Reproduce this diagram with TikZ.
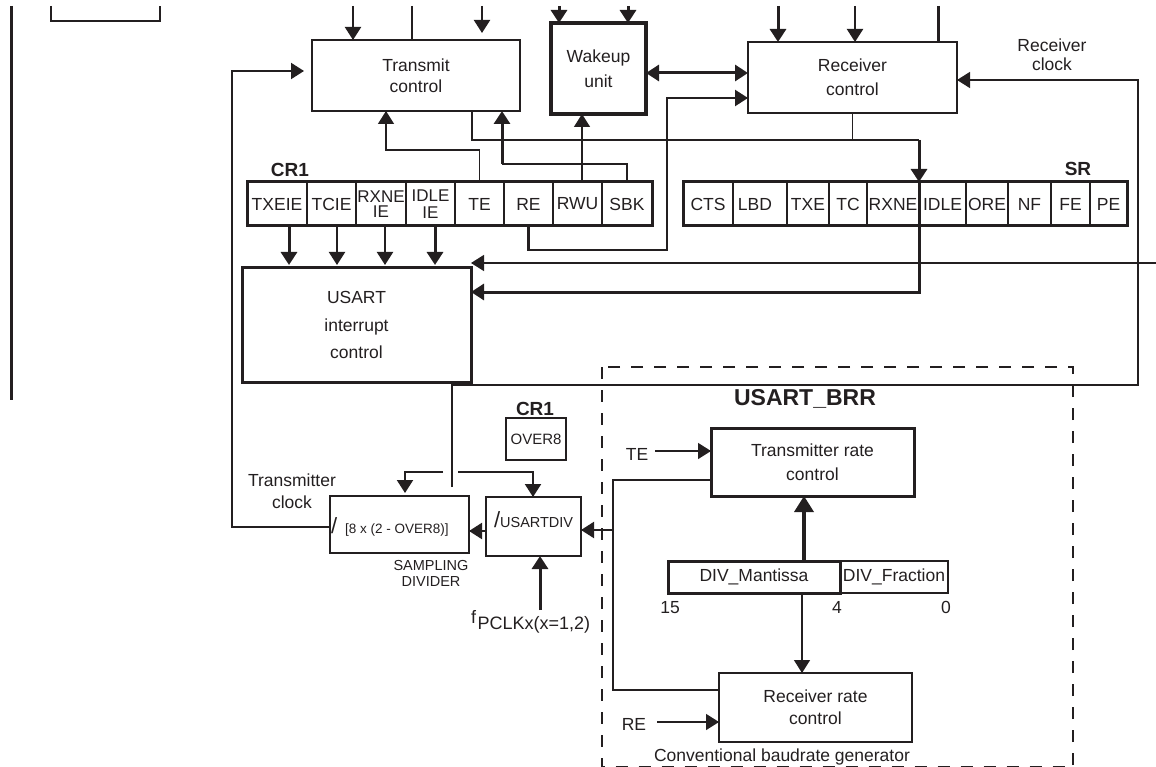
\documentclass[tikz,border=0pt]{standalone}
\usepackage{fontspec}
\setmainfont{Liberation Sans}
\usetikzlibrary{arrows.meta}
\definecolor{ink}{HTML}{231F20}
\begin{document}
\begin{tikzpicture}[x=1pt,y=-1pt,color=ink,
  every node/.style={text=ink,inner sep=0pt,outer sep=0pt},
  f17/.style={font=\fontsize{17.5}{21}\selectfont},
  box/.style={draw=ink,line width=2.5pt,align=center,f17},
  cell/.style={draw=ink,line width=1.4pt,align=center,minimum height=44pt,f17},
  wthin/.style={line width=1.5pt},
  wmid/.style={line width=2.2pt},
  wthick/.style={line width=3pt},
  arr/.style={-{Triangle[length=13pt,width=16pt]}},
  darr/.style={{Triangle[length=13pt,width=16pt]}-{Triangle[length=13pt,width=16pt]}},
  lbl/.style={f17,align=center},
  boldlbl/.style={font=\bfseries\fontsize{19}{19}\selectfont}
]
\useasboundingbox (0,0) rectangle (1156,767);
\clip (0,0) rectangle (1156,767);

% ---------- fragments at the upper left ----------
\coordinate (edgeTop) at (11,6);
\coordinate (edgeBot) at (11,400);
\draw[wthick] (edgeTop) -- (edgeBot);
\draw[line width=2.5pt] (51,6) -- (51,21) -- (160,21) -- (160,6);

% ---------- control blocks ----------
\node[box,minimum width=208pt,minimum height=71pt,font=\fontsize{17.5}{21}\selectfont] (tx) at (416,75.5) {Transmit\\control};
\node[box,line width=3.5pt,minimum width=95pt,minimum height=91pt,font=\fontsize{17.5}{25}\selectfont] (wk) at (598.5,68.5) {Wakeup\\unit};
\node[box,minimum width=209pt,minimum height=71pt,font=\fontsize{17.5}{24}\selectfont] (rx) at (852.5,77.5) {Receiver\\control};
\node[box,line width=3pt,minimum width=229pt,minimum height=114pt,font=\fontsize{17.5}{27.5}\selectfont] (irq) at (356.5,325) {USART\\interrupt\\control};

% ---------- CR1 register ----------
\node[boldlbl,anchor=base] (cr1lbl) at (290,176.5) {CR1};
\node[cell,minimum width=60pt] (txeie) at (277,204) {TXEIE};
\node[cell,minimum width=49pt] (tcie) at (331.5,204) {TCIE};
\node[cell,minimum width=50pt,font=\fontsize{17}{15}\selectfont] (rxneie) at (381,204) {RXNE\\IE};
\node[cell,minimum width=49pt,font=\fontsize{17}{17}\selectfont] (idleie) at (430.5,204) {IDLE\\IE};
\node[cell,minimum width=49pt] (te) at (479.5,204) {TE};
\node[cell,minimum width=49pt] (re) at (528.5,204) {RE};
\node[cell,minimum width=49pt] (rwu) at (577.5,204) {RWU};
\node[cell,minimum width=50pt] (sbk) at (627,204) {SBK};
\draw[wthick] (txeie.north west) rectangle (sbk.south east);

% ---------- SR register ----------
\node[boldlbl,anchor=base] (srlbl) at (1078,175.5) {SR};
\node[cell,minimum width=50pt] (cts) at (708,204) {CTS};
\node[cell,minimum width=54pt] (lbd) at (760,204) {LBD\hspace*{10pt}};
\node[cell,minimum width=42pt] (txe) at (808,204) {TXE};
\node[cell,minimum width=38pt] (tc) at (848,204) {TC};
\node[cell,minimum width=52pt] (rxne) at (893,204) {RXNE};
\node[cell,minimum width=47pt] (idle) at (942.5,204) {IDLE};
\node[cell,minimum width=42pt] (ore) at (987,204) {ORE};
\node[cell,minimum width=43pt] (nf) at (1029.5,204) {NF};
\node[cell,minimum width=39pt] (fe) at (1070.5,204) {FE};
\node[cell,minimum width=37pt] (pe) at (1108.5,204) {PE};
\draw[wthick] (cts.north west) rectangle (pe.south east);

% ---------- inputs from above ----------
\coordinate (inA) at (353,6);
\coordinate (inB) at (412,6);
\coordinate (inC) at (482,6);
\coordinate (inD) at (559,6);
\coordinate (inE) at (628,6);
\coordinate (inF) at (778,6);
\coordinate (inG) at (855,6);
\coordinate (inH) at (938,6);
\draw[wmid,arr] (inA) -- (inA |- tx.north);
\draw[wmid] (inB) -- (inB |- tx.north);
\draw[wmid,arr,shorten >=7pt] (inC) -- (inC |- tx.north);
\draw[wthick,arr] (inD) -- (inD |- wk.north);
\draw[wthick,arr] (inE) -- (inE |- wk.north);
\draw[wthick,arr] (inF) -- (inF |- rx.north);
\draw[wmid,arr] (inG) -- (inG |- rx.north);
\draw[wthick] (inH) -- (inH |- rx.north);

% wakeup <-> receiver
\draw[wthick,darr] (wk.east |- 0,73) -- (rx.west |- 0,73);

% RE bit to receiver control
\draw[line width=2.4pt,arr] (re.south) -- (re.south |- 0,250) -- (667,250) -- (667,98) -- (rx.west |- 0,98);

% CR1 bits to transmit control and wakeup unit
\draw[wthin,arr] (te.north) -- (te.north |- 0,150) -- (386,150) -- (tx.south -| 386,0);
\draw[wthin] (sbk.north) -- (sbk.north |- 0,164) -- (502,164);
\draw[wthick,arr] (502,164) -- (tx.south -| 502,0);
\draw[wthin,arr] (rwu.north -| 582,0) -- (wk.south -| 582,0);

% status lines into SR and the interrupt block
\draw[wthin] (tx.south -| 472,0) -- (472,140) -- (919,140);
\draw[wthin] (rx.south) -- (rx.south |- 0,140);
\draw[wthick,arr] (rxne.north east |- 0,140) -- (rxne.north east);
\draw[wthick,arr] (rxne.north east) -- (rxne.north east |- 0,292) -- (irq.east |- 0,292);
\coordinate (irqIn) at (1156,263);
\draw[wthin,arr] (irqIn) -- (irq.east |- 0,263);

% interrupt enables
\draw[wthick,arr,shorten >=3pt] (txeie.south -| 289,0) -- (irq.north -| 289,0);
\draw[wmid,arr,shorten >=3pt] (tcie.south -| 337,0) -- (irq.north -| 337,0);
\draw[wmid,arr,shorten >=3pt] (rxneie.south -| 385,0) -- (irq.north -| 385,0);
\draw[wthick,arr,shorten >=3pt] (idleie.south -| 435,0) -- (irq.north -| 435,0);

% ---------- clock dividers ----------
\node[boldlbl,anchor=base] (cr1b) at (535,415) {CR1};
\node[box,minimum width=60pt,minimum height=42pt,font=\fontsize{15}{15}\selectfont] (over8) at (536,439) {OVER8};
\node[box,line width=2.2pt,minimum width=139pt,minimum height=57pt] (sd) at (399.5,524.5) {};
\node[anchor=base west] (sdtxt) at (331,533) {{\fontsize{22}{22}\selectfont/}\hspace{8pt}{\fontsize{13.5}{14}\selectfont[8 x (2 - OVER8)]}};
\node[font=\fontsize{14.5}{16}\selectfont,align=center] (sdlbl) at (431,573) {SAMPLING\\DIVIDER};
\node[box,minimum width=95pt,minimum height=59pt] (ud) at (533.5,526.5) {};
\node[anchor=base west] (udtxt) at (494,527.5) {{\fontsize{22}{22}\selectfont/}{\fontsize{14.5}{16}\selectfont USARTDIV}};
\node[anchor=base west,font=\fontsize{18}{18}\selectfont] (fpclk) at (471,623) {f\kern1.5pt\raisebox{-6pt}{PCLKx(x=1,2)}};
\coordinate (fsrc) at (540,610);
\draw[wthick,arr] (fsrc) -- (ud.south -| fsrc);

\node[lbl,font=\fontsize{17.5}{22.5}\selectfont] (txclk) at (292,491) {Transmitter\\clock};
\node[lbl,font=\fontsize{17.5}{19}\selectfont] (rxclk) at (1052,55) {Receiver\\clock};

% transmitter clock
\draw[line width=2pt,arr,shorten >=8pt] (sd.west |- 0,527) -- (232,527) -- (232,71) -- (tx.west |- 0,71);
% receiver clock
\coordinate (rcEnd) at (452,487);
\draw[wthin,arr] (rcEnd) -- (452,385) -- (1138,385) -- (1138,80) -- (rx.east |- 0,80);
% oversampling select into both dividers
\coordinate (ovA) at (443,472);
\coordinate (ovB) at (458,472);
\draw[wmid,arr,shorten >=3pt] (ovA) -- (405,472) -- (sd.north -| 405,0);
\draw[wmid,arr] (ovB) -- (533,472) -- (ud.north -| 533,0);
\draw[wmid,arr] (ud.west |- 0,531) -- (sd.east |- 0,531);

% ---------- baud rate generator ----------
\draw[line width=2.5pt,dash pattern=on 12pt off 11pt] (602,367) rectangle (1073,767.5);
\node[font=\bfseries\fontsize{23}{23}\selectfont,anchor=base] (brrlbl) at (805,405) {USART\_BRR};
\node[box,line width=3pt,minimum width=203pt,minimum height=68pt,font=\fontsize{17.5}{24}\selectfont] (trc) at (812.5,462) {Transmitter rate\\control};
\node[box,line width=3pt,minimum width=172pt,minimum height=32pt] (man) at (754,577) {DIV\_Mantissa};
\node[box,minimum width=108pt,minimum height=32pt] (frac) at (894,577) {DIV\_Fraction};
\node[box,minimum width=193pt,minimum height=69pt,font=\fontsize{17.5}{22}\selectfont] (rrc) at (815.5,707.5) {Receiver rate\\control};
\node[f17,anchor=base] (b15) at (670,613) {15};
\node[f17,anchor=base] (b4) at (837,613) {4};
\node[f17,anchor=base] (b0) at (946,613) {0};
\node[f17,anchor=base] (telbl) at (637,460) {TE};
\node[f17,anchor=base] (relbl) at (634,730.5) {RE};
\node[f17,anchor=base] (cbg) at (782,761.5) {Conventional baudrate generator};

\coordinate (teSrc) at (655,451);
\coordinate (reSrc) at (657,722);
\draw[wthin,arr] (teSrc) -- (trc.west |- teSrc);
\draw[wthin,arr] (reSrc) -- (rrc.west |- reSrc);
\draw[line width=3.5pt,-{Triangle[length=16pt,width=19pt]}] (man.north -| 804,0) -- (trc.south -| 804,0);
\draw[wthin,arr] (man.south -| 802,0) -- (rrc.north -| 802,0);
\draw[line width=2.6pt] (trc.west |- 0,480) -- (613,480) -- (613,690) -- (rrc.west |- 0,690);
\draw[wmid,arr] (613,530) -- (ud.east |- 0,530);
\end{tikzpicture}
\end{document}
